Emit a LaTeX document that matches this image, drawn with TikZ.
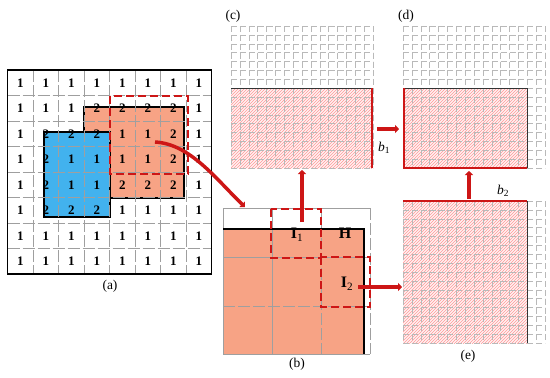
\documentclass[tikz,border=0pt]{standalone}
\usepackage{fontspec}
\setmainfont{Liberation Serif}
\usetikzlibrary{arrows.meta,patterns,calc}

\definecolor{salmon}{RGB}{247,163,133}
\definecolor{skyblue}{RGB}{66,178,238}
\definecolor{darkred}{RGB}{205,22,22}

\begin{document}
\begin{tikzpicture}[x=1pt, y=-1pt,
    num/.style={font=\fontsize{13}{13}\selectfont\bfseries, inner sep=0pt},
    paneltag/.style={font=\fontsize{13.5}{14}\selectfont, inner sep=0pt},
    lab/.style={font=\fontsize{16}{17}\selectfont, inner sep=0pt},
    gridline/.style={gray!75, line width=0.6pt, dash pattern=on 12pt off 3pt},
    boxline/.style={gray!75, line width=0.6pt},
    fineline/.style={gray!55, line width=0.4pt, dash pattern=on 6pt off 2.875pt},
    redbox/.style={darkred, line width=1.8pt, dash pattern=on 8pt off 4pt},
    redarrow/.style={darkred, line width=3.5pt, -{Triangle[width=8pt,length=4pt]}},
    hatch/.style={preaction={fill=red!5}, pattern=north east lines, pattern color=red!40},
    blackedge/.style={draw=black, line width=1.2pt},
    thinedge/.style={draw=black!80, line width=0.8pt},
    rededge/.style={darkred, line width=2.2pt}
]
    \useasboundingbox (0,0) rectangle (550,378);

    % Panel (a): 8x8 grid of labels
    \filldraw[fill=salmon, blackedge] (84,107) rectangle (184,198);
    \filldraw[fill=skyblue, blackedge] (44,132) rectangle (110,217);
    \foreach \i in {1,...,7} {
        \draw[gridline] ({7.5+25.5*\i},70) -- ({7.5+25.5*\i},274);
        \draw[gridline] (7.5,{70+25.5*\i}) -- (211.5,{70+25.5*\i});
    }
    \foreach \row [count=\r from 0] in {{1,1,1,1,1,1,1,1},{1,1,1,2,2,2,2,1},
            {1,2,2,2,1,1,2,1},{1,2,1,1,1,1,2,1},{1,2,1,1,2,2,2,1},
            {1,2,2,2,1,1,1,1},{1,1,1,1,1,1,1,1},{1,1,1,1,1,1,1,1}} {
        \foreach \v [count=\c from 0] in \row {
            \node[num] (n-\r-\c) at ({7.5+25.5*(\c+0.5)},{70+25.5*(\r+0.5)}) {\v};
        }
    }
    \draw[redbox] (110,96) rectangle (188,174);
    \draw[blackedge] (7.5,70) rectangle (211.5,274);
    \node[paneltag] (capa) at (110,286) {(a)};

    % Panel (b): shifted window H
    \fill[salmon] (223,229) rectangle (364,354);
    \draw[boxline] (370,208) -- (223,208) -- (223,354) -- (370,354);
    \draw[gridline] (370,208) -- (370,354);
    \draw[boxline] (272,208) -- (272,354);
    \draw[gridline] (321,208) -- (321,354);
    \draw[boxline] (223,257) -- (370,257);
    \draw[gridline] (223,306) -- (370,306);
    \draw[blackedge] (223,229) -- (364,229) -- (364,354);
    \draw[redbox] (271,209) rectangle (321,258);
    \draw[redbox] (321,257) rectangle (370,307);
    \node[lab] (I1) at (297,235) {\textbf{I}\textsubscript{1}};
    \node[lab] (H) at (345,233) {\textbf{H}};
    \node[lab] (I2) at (347,284) {\textbf{I}\textsubscript{2}};
    \node[paneltag] (capb) at (297,364) {(b)};

    % Panel (c)
    \path[hatch] (231,88) rectangle (373,168);
    \foreach \i in {0,...,16} {
        \draw[fineline] ({231+8.875*\i},26) -- ++(0,142);
        \draw[fineline] (231,{26+8.875*\i}) -- ++(142,0);
    }
    \draw[thinedge] (231,88) -- (373,88);
    \draw[rededge] (372,88) -- (372,168);
    \node[paneltag] (capc) at (233,16) {(c)};
    \node[paneltag] (b1) at (384,148) {\textit{b}\textsubscript{1}};

    % Panel (d)
    \path[hatch] (403,88) rectangle (527.25,168);
    \foreach \i in {0,...,16} {
        \draw[fineline] ({403+8.875*\i},26) -- ++(0,142);
        \draw[fineline] (403,{26+8.875*\i}) -- ++(142,0);
    }
    \draw[thinedge] (403,88) -- (527.25,88) -- (527.25,168);
    \draw[rededge] (404,88) -- (404,168) -- (527.25,168);
    \node[paneltag] (capd) at (406,16) {(d)};

    % Panel (e)
    \path[hatch] (403,201) rectangle (527.25,343);
    \foreach \i in {0,...,16} {
        \draw[fineline] ({403+8.875*\i},201) -- ++(0,142);
        \draw[fineline] (403,{201+8.875*\i}) -- ++(142,0);
    }
    \draw[thinedge] (527.25,201) -- (527.25,343);
    \draw[rededge] (403,201) -- (527.25,201);
    \node[paneltag] (b2) at (503,191) {\textit{b}\textsubscript{2}};
    \node[paneltag] (cape) at (468,356) {(e)};

    % Connectors
    \coordinate (a-from) at (155,142);
    \coordinate (b-to) at (245,207);
    \coordinate (I1-from) at (302,222);
    \coordinate (c-to) at (302,170);
    \coordinate (I2-from) at (358,287);
    \coordinate (e-to) at (402,287);
    \coordinate (c-from) at (377,129);
    \coordinate (d-to) at (399,129);
    \coordinate (e-from) at (469,199);
    \coordinate (d-up) at (469,171);
    \draw[redarrow] (a-from) .. controls (190,144) and (215,178) .. (b-to);
    \draw[redarrow] (I1-from) -- (c-to);
    \draw[redarrow] (I2-from) -- (e-to);
    \draw[redarrow] (c-from) -- (d-to);
    \draw[redarrow] (e-from) -- (d-up);
\end{tikzpicture}
\end{document}
